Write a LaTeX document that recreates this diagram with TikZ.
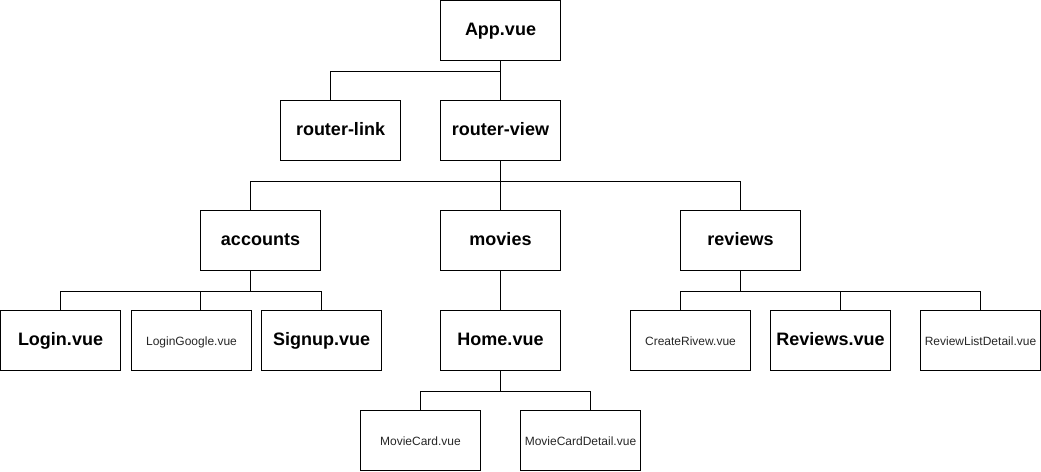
\documentclass[tikz,border=0pt]{standalone}
\usepackage{fontspec}
\setmainfont{Liberation Sans}
\usepackage{tikz}

\begin{document}
\begin{tikzpicture}[x=1pt, y=1pt, line width=1pt,
    box/.style={draw, rectangle, minimum width=120, minimum height=60, inner sep=0pt,
        text height=0.95em, text depth=0pt},
    big/.style={box, font=\fontsize{18}{20}\selectfont\bfseries},
    small/.style={box, font=\fontsize{12}{14}\selectfont, text=black!85}]
    \useasboundingbox (0,0) rectangle (1041,-471);

    % Top level
    \node[big] (app) at (500.5,-30.5) {App.vue};

    % Router
    \node[big] (rlink) at (340.5,-130.5) {router-link};
    \node[big] (rview) at (500.5,-130.5) {router-view};

    % Folders
    \node[big] (accounts) at (260.5,-240.5) {accounts};
    \node[big] (movies) at (500.5,-240.5) {movies};
    \node[big] (reviews) at (740.5,-240.5) {reviews};

    % Views
    \node[big] (login) at (60.5,-340.5) {Login.vue};
    \node[small] (logingoogle) at (191.5,-340.5) {LoginGoogle.vue};
    \node[big] (signup) at (321.5,-340.5) {Signup.vue};
    \node[big] (home) at (500.5,-340.5) {Home.vue};
    \node[small] (createrivew) at (690.5,-340.5) {CreateRivew.vue};
    \node[big] (reviewsvue) at (830.5,-340.5) {Reviews.vue};
    \node[small] (reviewlist) at (980.5,-340.5) {ReviewListDetail.vue};

    % Components
    \node[small] (moviecard) at (420.5,-440.5) {MovieCard.vue};
    \node[small] (moviedetail) at (580.5,-440.5) {MovieCardDetail.vue};

    % Draw the Edges
    \draw (app.south) -- ++(0,-10) -| ([xshift=-10]rlink.north);
    \draw (app.south) -- (rview.north);

    \draw (rview.south) -- ++(0,-20) -| ([xshift=-10]accounts.north);
    \draw (rview.south) -- (movies.north);
    \draw (rview.south) -- ++(0,-20) -| (reviews.north);

    \draw ([xshift=-10]accounts.south) -- ++(0,-20) -| (login.north);
    \draw ([xshift=-10]accounts.south) -- ++(0,-20) -| ([xshift=9]logingoogle.north);
    \draw ([xshift=-10]accounts.south) -- ++(0,-20) -| (signup.north);

    \draw (movies.south) -- (home.north);

    \draw (reviews.south) -- ++(0,-20) -| ([xshift=-10]createrivew.north);
    \draw (reviews.south) -- ++(0,-20) -| ([xshift=10]reviewsvue.north);
    \draw (reviews.south) -- ++(0,-20) -| (reviewlist.north);

    \draw (home.south) -- ++(0,-20) -| (moviecard.north);
    \draw (home.south) -- ++(0,-20) -| ([xshift=10]moviedetail.north);

\end{tikzpicture}
\end{document}
